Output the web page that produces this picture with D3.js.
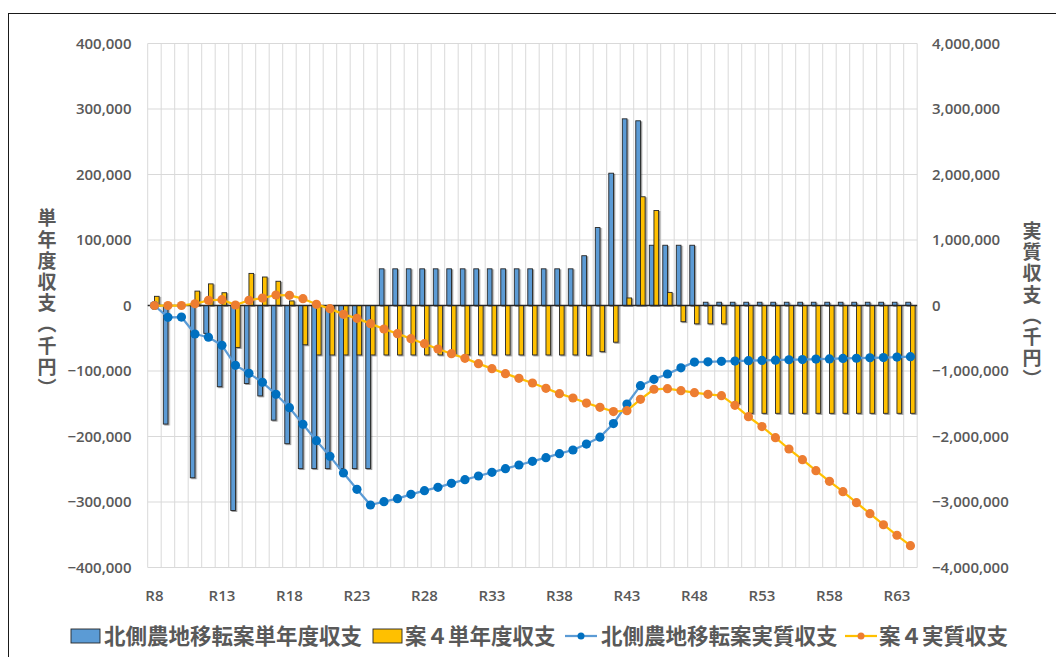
<!DOCTYPE html>
<html>
<head>
<meta charset="utf-8">
<script src="https://cdn.jsdelivr.net/npm/d3@7"></script>
<style>
  body { margin: 0; background: #ffffff; }
  svg { display: block; }
</style>
</head>
<body>
<svg id="chart" width="1056" height="657"></svg>
<script>
// Fiscal years (Reiwa) on the category axis
const categories = ["R8","R9","R10","R11","R12","R13","R14","R15","R16","R17",
  "R18","R19","R20","R21","R22","R23","R24","R25","R26","R27",
  "R28","R29","R30","R31","R32","R33","R34","R35","R36","R37",
  "R38","R39","R40","R41","R42","R43","R44","R45","R46","R47",
  "R48","R49","R50","R51","R52","R53","R54","R55","R56","R57",
  "R58","R59","R60","R61","R62","R63","R64"];

// Labelled years on the category axis
const xTickLabels = ["R8","R13","R18","R23","R28","R33","R38","R43","R48","R53","R58","R63"];

// Single-year balance, north farmland relocation plan (thousand yen, left axis)
const northSingle = [0, -181000, 0, -263000, -42500, -124000, -313000, -119000, -138000, -175000,
  -211000, -249000, -249000, -249000, -249000, -249000, -249000, 56000, 56000, 56000,
  56000, 56000, 56000, 56000, 56000, 56000, 56000, 56000, 56000, 56000,
  56000, 56000, 76000, 119000, 202000, 285000, 282000, 92000, 92000, 92000,
  92000, 5000, 5000, 5000, 5000, 5000, 5000, 5000, 5000, 5000,
  5000, 5000, 5000, 5000, 5000, 5000, 5000];

// Single-year balance, plan 4 (thousand yen, left axis)
const plan4Single = [14000, 0, 0, 22000, 33000, 19500, -64000, 49000, 43500, 37000,
  7000, -60000, -75500, -75500, -75500, -75500, -75500, -75500, -75500, -75500,
  -75500, -75500, -75500, -75500, -75500, -75500, -75500, -75500, -75500, -75500,
  -75500, -75500, -76000, -70500, -56000, 11500, 166000, 145000, 20000, -24700,
  -28000, -28000, -28000, -150000, -164600, -164600, -164600, -164600, -164600, -164600,
  -164600, -164600, -164600, -164600, -164600, -164600, -164600];

// Real (cumulative) balance, north farmland relocation plan (thousand yen, right axis)
const northReal = [0, -180000, -176000, -435000, -485000, -608000, -913000, -1035000, -1173000, -1356000,
  -1560000, -1814000, -2064000, -2303000, -2557000, -2806000, -3046000, -2995000, -2949000, -2883000,
  -2827000, -2776000, -2715000, -2659000, -2603000, -2547000, -2491000, -2435000, -2379000, -2323000,
  -2262000, -2206000, -2115000, -2010000, -1802000, -1504000, -1224000, -1127000, -1046000, -952000,
  -863000, -860000, -853000, -848000, -843000, -838000, -835000, -828000, -825000, -818000,
  -815000, -808000, -805000, -798000, -795000, -788000, -782000];

// Real (cumulative) balance, plan 4 (thousand yen, right axis)
const plan4Real = [0, 0, 0, 27000, 79000, 89000, 8000, 79000, 114000, 160000,
  155000, 104000, 18000, -48000, -135000, -196000, -277000, -359000, -430000, -507000,
  -583000, -664000, -736000, -806000, -888000, -964000, -1041000, -1112000, -1183000, -1264000,
  -1346000, -1412000, -1489000, -1555000, -1619000, -1606000, -1432000, -1279000, -1270000, -1301000,
  -1331000, -1356000, -1377000, -1524000, -1698000, -1848000, -2018000, -2191000, -2354000, -2522000,
  -2684000, -2843000, -3011000, -3179000, -3347000, -3508000, -3667000];

const leftTicks = [-400000, -300000, -200000, -100000, 0, 100000, 200000, 300000, 400000];
const rightTicks = [-4000000, -3000000, -2000000, -1000000, 0, 1000000, 2000000, 3000000, 4000000];

const seriesNames = ["北側農地移転案単年度収支", "案４単年度収支", "北側農地移転案実質収支", "案４実質収支"];
const leftTitle = "単年度収支（千円）";
const rightTitle = "実質収支（千円）";

const colors = {
  northBar: "#5B9BD5",
  plan4Bar: "#FFC000",
  northLine: "#5B9BD5",
  northDot: "#0070C0",
  plan4Line: "#FFC000",
  plan4Dot: "#ED7D31",
  grid: "#D9D9D9",
  text: "#595959",
  barEdge: "#262626"
};

const svg = d3.select("#chart");
const plot = { left: 147.7, right: 917.2, top: 43.5, bottom: 567.5 };

const x = d3.scaleBand().domain(categories).range([plot.left, plot.right]).paddingInner(0).paddingOuter(0);
const yL = d3.scaleLinear().domain([-400000, 400000]).range([plot.bottom, plot.top]);
const yR = d3.scaleLinear().domain([-4000000, 4000000]).range([plot.bottom, plot.top]);
const cx = d => x(d) + x.bandwidth() / 2;
const barW = x.bandwidth() * 0.345;

// drop shadow used on the columns
const defs = svg.append("defs");
const shadow = defs.append("filter").attr("id", "barShadow")
  .attr("x", "-50%").attr("y", "-5%").attr("width", "200%").attr("height", "110%");
shadow.append("feDropShadow").attr("dx", 1.3).attr("dy", 1.0)
  .attr("stdDeviation", 0.6).attr("flood-color", "#000").attr("flood-opacity", 0.4);

// outer frame
svg.append("rect").attr("x", 8.5).attr("y", 13.5).attr("width", 1200).attr("height", 800)
  .attr("fill", "none").attr("stroke", "#1a1a1a").attr("stroke-width", 1);

// gridlines
const grid = svg.append("g");
grid.selectAll("line.h").data(leftTicks).join("line")
  .attr("x1", plot.left).attr("x2", plot.right)
  .attr("y1", d => yL(d)).attr("y2", d => yL(d))
  .attr("stroke", colors.grid).attr("stroke-width", 1);
const bounds = categories.map(c => x(c)).concat([plot.right]);
grid.selectAll("line.v").data(bounds).join("line")
  .attr("x1", d => d).attr("x2", d => d)
  .attr("y1", plot.top).attr("y2", plot.bottom)
  .attr("stroke", colors.grid).attr("stroke-width", 1);

// columns
const bars = svg.append("g").attr("filter", "url(#barShadow)");
bars.selectAll("rect.north").data(categories.map((c, i) => ({ c, v: northSingle[i] })).filter(d => d.v !== 0))
  .join("rect")
  .attr("x", d => cx(d.c) - barW)
  .attr("y", d => Math.min(yL(d.v), yL(0)))
  .attr("width", barW)
  .attr("height", d => Math.abs(yL(d.v) - yL(0)))
  .attr("fill", colors.northBar).attr("stroke", colors.barEdge).attr("stroke-width", 0.9);
bars.selectAll("rect.plan4").data(categories.map((c, i) => ({ c, v: plan4Single[i] })).filter(d => d.v !== 0))
  .join("rect")
  .attr("x", d => cx(d.c))
  .attr("y", d => Math.min(yL(d.v), yL(0)))
  .attr("width", barW)
  .attr("height", d => Math.abs(yL(d.v) - yL(0)))
  .attr("fill", colors.plan4Bar).attr("stroke", colors.barEdge).attr("stroke-width", 0.9);

// zero line
svg.append("line").attr("x1", plot.left).attr("x2", plot.right)
  .attr("y1", yL(0)).attr("y2", yL(0))
  .attr("stroke", "#262626").attr("stroke-width", 1.5);

// real balance lines
function drawLine(values, lineColor, dotColor) {
  const pts = categories.map((c, i) => [cx(c), yR(values[i])]);
  const g = svg.append("g");
  g.append("path").attr("d", d3.line()(pts))
    .attr("fill", "none").attr("stroke", lineColor).attr("stroke-width", 2.25)
    .attr("stroke-linejoin", "round");
  g.selectAll("circle").data(pts).join("circle")
    .attr("cx", d => d[0]).attr("cy", d => d[1]).attr("r", 4.6)
    .attr("fill", dotColor);
}
drawLine(northReal, colors.northLine, colors.northDot);
drawLine(plan4Real, colors.plan4Line, colors.plan4Dot);

// axes
const numFmt = d3.format(",");
const axisFont = "'Open Sans', 'Liberation Sans', sans-serif";

const leftAxis = svg.append("g").attr("transform", `translate(131.5,0)`)
  .call(d3.axisLeft(yL).tickValues(leftTicks).tickSize(0).tickPadding(0).tickFormat(numFmt));
const rightAxis = svg.append("g").attr("transform", `translate(932,0)`)
  .call(d3.axisRight(yR).tickValues(rightTicks).tickSize(0).tickPadding(0).tickFormat(numFmt));
const bottomAxis = svg.append("g").attr("transform", `translate(0,590)`)
  .call(d3.axisBottom(x).tickValues(xTickLabels).tickSize(0).tickPadding(0));

[leftAxis, rightAxis, bottomAxis].forEach(a => {
  a.select(".domain").remove();
  a.selectAll("text")
    .attr("fill", colors.text)
    .style("font-family", axisFont)
    .style("font-size", "15px")
    .style("font-weight", "600");
});

// vertical axis titles (vertical writing, upright glyphs)
const cjkFont = "'Noto Sans CJK JP', 'Noto Sans', sans-serif";
function verticalTitle(txt, px, py) {
  svg.append("text").text(txt)
    .attr("x", px).attr("y", py)
    .attr("text-anchor", "middle")
    .attr("fill", colors.text)
    .style("writing-mode", "vertical-rl")
    .style("text-orientation", "upright")
    .style("font-family", cjkFont)
    .style("font-size", "19px")
    .style("font-weight", "700")
    .style("letter-spacing", "2.2px");
}
verticalTitle(leftTitle, 47, 304);
verticalTitle(rightTitle, 1032, 306);

// legend
const legendY = 636;
const legend = svg.append("g");
const legendItems = [
  { name: seriesNames[0], kind: "bar", fill: colors.northBar, keyX: 71, textX: 104 },
  { name: seriesNames[1], kind: "bar", fill: colors.plan4Bar, keyX: 373, textX: 405 },
  { name: seriesNames[2], kind: "line", line: colors.northLine, dot: colors.northDot, keyX: 565, textX: 601 },
  { name: seriesNames[3], kind: "line", line: colors.plan4Line, dot: colors.plan4Dot, keyX: 845, textX: 879 }
];
legendItems.forEach(it => {
  if (it.kind === "bar") {
    legend.append("rect").attr("x", it.keyX).attr("y", legendY - 7).attr("width", 29).attr("height", 14)
      .attr("fill", it.fill).attr("stroke", colors.barEdge).attr("stroke-width", 0.9);
  } else {
    legend.append("line").attr("x1", it.keyX).attr("x2", it.keyX + 32)
      .attr("y1", legendY).attr("y2", legendY)
      .attr("stroke", it.line).attr("stroke-width", 2.25);
    legend.append("circle").attr("cx", it.keyX + 16).attr("cy", legendY).attr("r", 3.5).attr("fill", it.dot);
  }
  legend.append("text").text(it.name)
    .attr("x", it.textX).attr("y", legendY)
    .attr("dy", "0.36em")
    .attr("fill", colors.text)
    .style("font-family", cjkFont)
    .style("font-size", "21.5px")
    .style("font-weight", "700");
});
</script>
</body>
</html>
